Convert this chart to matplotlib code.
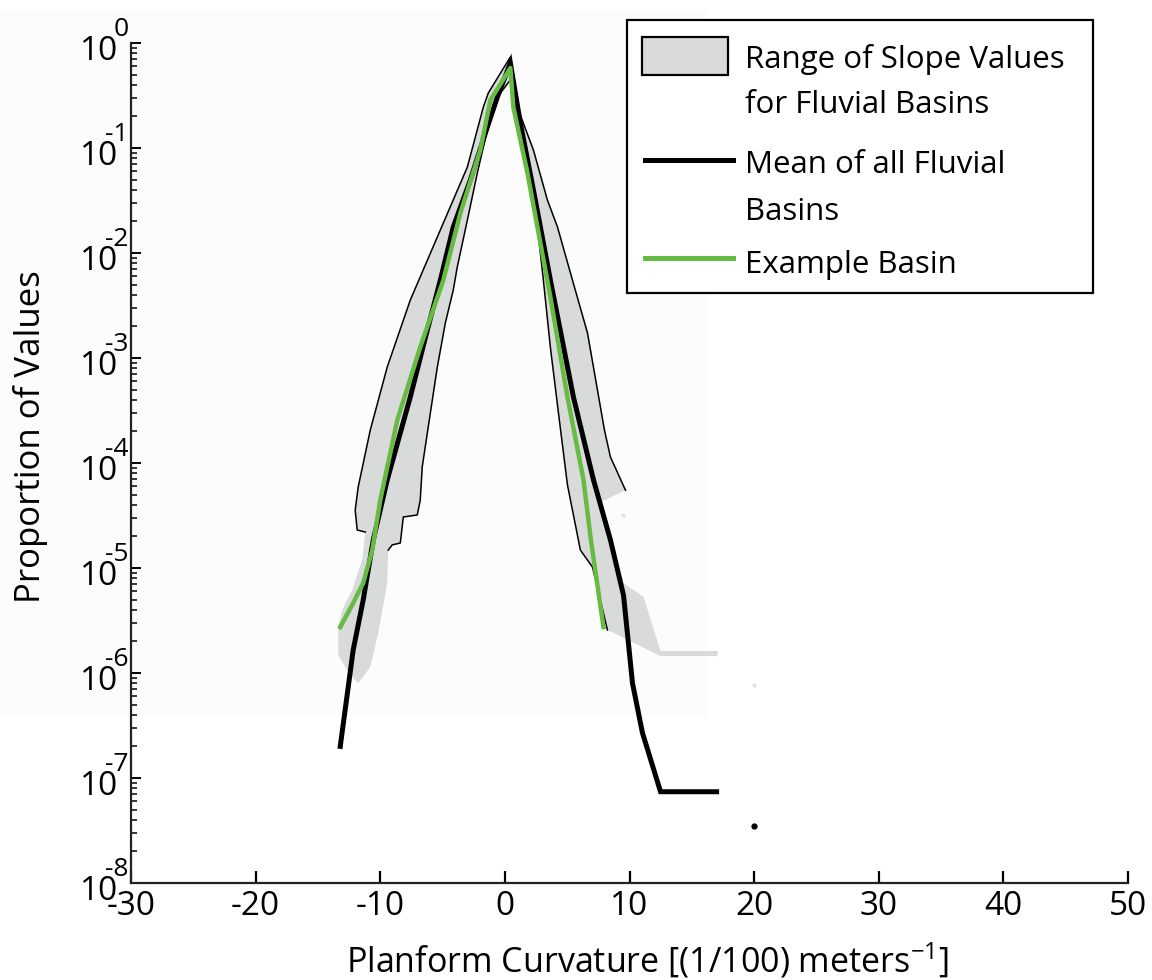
import matplotlib
matplotlib.use('Agg')
import matplotlib.pyplot as plt
import numpy as np
from matplotlib.patches import Rectangle
from matplotlib.lines import Line2D
from matplotlib.ticker import NullFormatter

plt.rcParams['font.family'] = ['Open Sans', 'DejaVu Sans']
plt.rcParams['axes.unicode_minus'] = False

# band of fluvial basins: outer edge (bottom-left tip -> peak -> right tail)
band_outer_x = [-11.77, -12.57, -13.37, -13.37, -13.05, -12.25, -11.45, -11.20, -11.85, -12.01,
                -11.77, -10.80, -9.44, -7.59, -5.42, -3.01, -1.73, -1.33, 0.44, 1.00,
                2.29, 3.41, 4.22, 5.26, 6.63, 7.99, 8.47, 9.68, 7.67, 8.47,
                9.52, 11.12, 12.49, 17.07]
band_outer_y = [8.0e-7, 1.02e-6, 1.48e-6, 2.86e-6, 3.98e-6, 6.17e-6, 1.19e-5, 2.20e-5, 2.30e-5, 3.56e-5,
                5.9e-5, 2.06e-4, 8.2e-4, 3.56e-3, 0.0142, 0.0659, 0.245, 0.334, 0.736, 0.245,
                0.0957, 0.0320, 0.0177, 6.46e-3, 1.73e-3, 2.06e-4, 1.14e-4, 5.5e-5, 4.25e-5, 1.85e-5,
                7.2e-6, 5.3e-6, 1.62e-6, 1.62e-6]
# inner edge (right tail -> notch at peak -> bottom-left tip)
band_inner_x = [17.07, 12.49, 8.23, 7.03, 6.06, 5.02, 4.30, 3.65, 3.09, 2.61,
                1.89, 1.24, 0.44, -0.60, -1.41, -2.21, -3.01, -3.82, -4.14, -4.78,
                -5.42, -5.98, -6.63, -6.79, -7.03, -8.15, -8.39, -9.04, -9.36, -9.44,
                -10.16, -10.80, -11.77]
band_inner_y = [1.45e-6, 1.45e-6, 2.57e-6, 1.02e-5, 1.48e-5, 6.2e-5, 2.99e-4, 1.27e-3, 5.5e-3, 0.0177,
                0.0578, 0.148, 0.445, 0.306, 0.148, 0.0578, 0.0206, 7.36e-3, 4.44e-3, 2.15e-3,
                8.2e-4, 2.99e-4, 9.2e-5, 4.44e-5, 3.2e-5, 3.06e-5, 1.73e-5, 1.66e-5, 1.48e-5, 7.2e-6,
                2.40e-6, 1.14e-6, 8.0e-7]
outer_edge_drawn = (7, 28)   # part of the outer edge with a black outline
inner_edge_drawn = (2, 29)

# mean of all fluvial basins
mean_x = [-13.21, -12.17, -11.37, -10.56, -9.44, -7.59, -6.22, -5.18, -4.14, -2.77,
          -1.41, -0.60, 0.44, 1.24, 2.29, 3.65, 5.50, 7.11, 8.47, 9.52,
          10.24, 11.04, 12.49, 16.99]
mean_y = [2.0e-7, 1.66e-6, 4.95e-6, 1.85e-5, 6.9e-5, 4.25e-4, 1.85e-3, 5.5e-3, 0.0177, 0.0496,
          0.158, 0.306, 0.645, 0.173, 0.0398, 5.53e-3, 4.25e-4, 6.9e-5, 1.85e-5, 5.5e-6,
          8.0e-7, 2.69e-7, 7.4e-8, 7.4e-8]

# example basin
ex_x = [-13.21, -12.17, -11.37, -10.64, -10.0, -8.63, -6.79, -4.94, -3.57, -1.97,
        -1.16, 0.44, 0.68, 1.81, 3.65, 5.02, 6.31, 6.87, 7.91]
ex_y = [2.74e-6, 4.64e-6, 7.2e-6, 1.48e-5, 4.44e-5, 2.57e-4, 1.27e-3, 5.5e-3, 0.024, 0.0957,
        0.286, 0.578, 0.245, 0.0578, 3.81e-3, 4.25e-4, 6.9e-5, 1.97e-5, 2.74e-6]

# stray points
dot_x = [20.0]
dot_y = [3.5e-8]
faint_x = [20.0, 9.5]
faint_y = [7.7e-7, 3.2e-5]

x_ticks = [-30, -20, -10, 0, 10, 20, 30, 40, 50]
y_exps = [0, -1, -2, -3, -4, -5, -6, -7, -8]

leg_lines = [['Range of Slope Values', 'for Fluvial Basins'],
             ['Mean of all Fluvial', 'Basins'],
             ['Example Basin']]

W, H = 1152, 980
fig = plt.figure(figsize=(W / 100, H / 100), dpi=100)
fig.patch.set_facecolor('white')

def fx(px):
    return px / W

def fy(py):
    return 1 - py / H

# faint grey backdrop left over from the source image
fig.patches.append(Rectangle((0, fy(717)), fx(708), fy(10) - fy(717), transform=fig.transFigure,
                             facecolor='#fcfcfc', edgecolor='none', zorder=-1))

ax = fig.add_axes([fx(131), fy(883), fx(1128) - fx(131), fy(43) - fy(883)])
ax.patch.set_alpha(0)

band_fill = '#d9dada'
ax.fill(band_outer_x + band_inner_x, band_outer_y + band_inner_y, color=band_fill, lw=0, zorder=1)
a, b = outer_edge_drawn
ax.plot(band_outer_x[a:b], band_outer_y[a:b], color='black', lw=1.1, zorder=2)
a, b = inner_edge_drawn
ax.plot(band_inner_x[a:b], band_inner_y[a:b], color='black', lw=1.1, zorder=2)

ax.plot(mean_x, mean_y, color='black', lw=3.6, zorder=3, solid_joinstyle='miter')
ax.plot(ex_x, ex_y, color='#66bb44', lw=3.2, zorder=4)
ax.plot(dot_x, dot_y, 'o', color='black', ms=3.5, zorder=4)
ax.plot(faint_x, faint_y, 'o', color='#e2e2e2', ms=2, zorder=1)

ax.set_yscale('log')
ax.set_xlim(-30, 50)
ax.set_ylim(1e-8, 1e0)
for s in ['top', 'right']:
    ax.spines[s].set_visible(False)
for s in ['left', 'bottom']:
    ax.spines[s].set_linewidth(1.6)
    ax.spines[s].set_color('#222222')

ax.set_xticks(x_ticks)
ax.set_xticklabels([str(t) for t in x_ticks])
ax.tick_params(axis='x', direction='in', length=8.5, width=1.6, labelsize=24, pad=5.0)
ax.set_yticks([10.0 ** e for e in y_exps])
ax.set_yticklabels([])
ax.yaxis.set_minor_formatter(NullFormatter())
ax.tick_params(axis='y', which='major', direction='in', length=7, width=1.4)
ax.tick_params(axis='y', which='minor', direction='in', length=4.2, width=1.1)

for e in y_exps:
    ax.annotate('10', xy=(0, 10.0 ** e), xycoords=('axes fraction', 'data'),
                xytext=(-13, -17), textcoords='offset pixels',
                ha='right', va='baseline', fontsize=24, annotation_clip=False)
    ax.annotate(str(e), xy=(0, 10.0 ** e), xycoords=('axes fraction', 'data'),
                xytext=(-2 if e == 0 else -3, 7), textcoords='offset pixels',
                ha='right', va='baseline', fontsize=19, annotation_clip=False)

fig.text(fx(647), fy(972), r'Planform Curvature [(1/100) meters$^{\mathregular{-1}}$]',
         ha='center', va='baseline', fontsize=24.5)
fig.text(fx(31), fy(437), 'Proportion of Values', rotation=90,
         ha='center', va='center', fontsize=25)

# legend drawn by hand to keep the handles on the first line of each label
fig.patches.append(Rectangle((fx(627), fy(293)), fx(1093) - fx(627), fy(20) - fy(293),
                             transform=fig.transFigure, facecolor='white',
                             edgecolor='black', lw=1.6, zorder=5))
fig.patches.append(Rectangle((fx(642), fy(75)), fx(728) - fx(642), fy(37) - fy(75),
                             transform=fig.transFigure, facecolor=band_fill,
                             edgecolor='black', lw=1.6, zorder=6))
fig.lines.append(Line2D([fx(645), fx(733)], [fy(160), fy(160)], transform=fig.transFigure,
                        color='black', lw=3.6, zorder=6))
fig.lines.append(Line2D([fx(645), fx(733)], [fy(258), fy(258)], transform=fig.transFigure,
                        color='#66bb44', lw=3.6, zorder=6))
leg_base = [[68, 113], [173, 220], [273]]
for lines, bases in zip(leg_lines, leg_base):
    for txt, yb in zip(lines, bases):
        fig.text(fx(745), fy(yb), txt, ha='left', va='baseline', fontsize=22.5, zorder=7)

fig.savefig('out.png', dpi=100)
